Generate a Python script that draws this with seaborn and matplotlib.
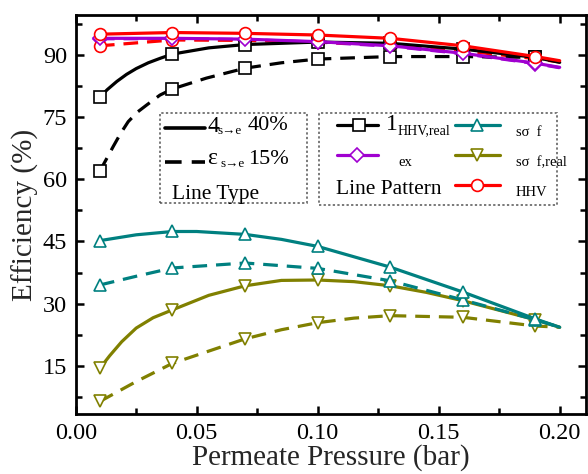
import numpy as np
import pandas as pd
import matplotlib
matplotlib.use("Agg")
import matplotlib.pyplot as plt
import seaborn as sns
from matplotlib.lines import Line2D
from matplotlib.patches import Rectangle

# ---------------- data ----------------
x_pts = [0.01, 0.04, 0.07, 0.10, 0.13, 0.16, 0.19]
x_end = 0.20

# solid lines (40 %)
hhv_40 = [95.0, 95.4, 95.2, 94.8, 94.0, 92.2, 89.6]
hhv_40_end = 88.6
ex_40 = [94.0, 94.0, 93.8, 93.2, 92.2, 90.4, 88.0]
ex_40_end = 87.0
hhv_real_40 = [79.8, 90.2, 92.5, 93.1, 92.8, 91.4, 89.4]
hhv_real_40_end = 88.2
hhv_real_40_xx = [0.013, 0.017, 0.021, 0.025, 0.030, 0.035, 0.055]
hhv_real_40_xy = [81.6, 83.6, 85.3, 86.7, 88.1, 89.2, 91.7]
sf_40 = [45.2, 47.4, 46.7, 43.8, 38.8, 32.8, 26.3]
sf_40_end = 24.3
sf_40_xx = [0.025, 0.05, 0.085]
sf_40_xy = [46.6, 47.4, 45.5]
sf_real_40 = [14.4, 28.5, 34.3, 35.7, 34.3, 30.7, 26.1]
sf_real_40_end = 24.3
sf_real_40_xx = [0.014, 0.019, 0.025, 0.032, 0.055, 0.085, 0.115, 0.145]
sf_real_40_xy = [17.4, 20.8, 24.1, 26.6, 32.0, 35.6, 35.3, 32.7]

# dashed lines (15 %)
hhv_15 = [92.2, 93.6, 93.5, 93.1, 92.5, 91.0, 89.1]
hhv_15_end = 88.3
ex_15 = [93.9, 93.9, 93.7, 93.1, 92.1, 90.3, 87.9]
ex_15_end = 86.9
hhv_real_15 = [62.0, 81.8, 86.8, 89.0, 89.6, 89.6, 89.4]
hhv_real_15_end = 88.4
hhv_real_15_xx = [0.013, 0.0155, 0.0185, 0.0217, 0.0255, 0.0293, 0.0348, 0.054, 0.085]
hhv_real_15_xy = [65.2, 67.9, 71.0, 73.9, 76.2, 77.9, 80.3, 84.4, 88.1]
sf_15 = [34.5, 38.6, 39.8, 38.5, 35.5, 30.9, 26.1]
sf_15_end = 24.3
sf_15_xx = [0.025]
sf_15_xy = [36.6]
sf_real_15 = [6.4, 15.6, 21.5, 25.4, 27.1, 26.7, 24.6]
sf_real_15_end = 24.3
sf_real_15_xx = [0.025, 0.085, 0.115]
sf_real_15_xy = [11.2, 23.7, 26.5]

x_ticks = [0.00, 0.05, 0.10, 0.15, 0.20]
x_ticklabels = ["0.00", "0.05", "0.10", "0.15", "0.20"]
y_ticks = [15, 30, 45, 60, 75, 90]
y_ticklabels = ["15", "30", "45", "60", "75", "90"]

C_BLACK = "#000000"
C_PURPLE = "#A000D0"
C_RED = "#FF0000"
C_TEAL = "#008080"
C_OLIVE = "#808000"

# ---------------- style ----------------
sns.set_theme(style="ticks")
plt.rcParams["font.family"] = ["Liberation Serif", "DejaVu Serif"]

W, H = 588, 474
fig = plt.figure(figsize=(W / 100, H / 100), dpi=100)
L, R, T, B = 75.7, 586.3, 14.7, 414.3
ax = fig.add_axes([L / W, 1 - B / H, (R - L) / W, (B - T) / H])

LW = 2.3
DASH = (4.6, 2.8)


def line_df(vals, end, xx=None, xy=None):
    xs = list(x_pts) + [x_end]
    ys = list(vals) + [end]
    if xx:
        xs += list(xx)
        ys += list(xy)
    return pd.DataFrame({"x": xs, "y": ys}).sort_values("x")


series = [
    # (vals, end, xx, xy, color, dashed, marker, ms, z)
    (sf_real_15, sf_real_15_end, sf_real_15_xx, sf_real_15_xy, C_OLIVE, True, "v", 8.5, 2),
    (sf_real_40, sf_real_40_end, sf_real_40_xx, sf_real_40_xy, C_OLIVE, False, "v", 8.5, 2),
    (sf_15, sf_15_end, sf_15_xx, sf_15_xy, C_TEAL, True, "^", 8.5, 3),
    (sf_40, sf_40_end, sf_40_xx, sf_40_xy, C_TEAL, False, "^", 8.5, 3),
    (ex_15, ex_15_end, None, None, C_PURPLE, True, "D", 7, 4),
    (hhv_real_15, hhv_real_15_end, hhv_real_15_xx, hhv_real_15_xy, C_BLACK, True, "s", 8, 5),
    (hhv_real_40, hhv_real_40_end, hhv_real_40_xx, hhv_real_40_xy, C_BLACK, False, "s", 8, 5),
    (ex_40, ex_40_end, None, None, C_PURPLE, False, "D", 7, 6),
    (hhv_15, hhv_15_end, None, None, C_RED, True, "o", 8.5, 4.5),
    (hhv_40, hhv_40_end, None, None, C_RED, False, "o", 8.5, 7),
]

for vals, end, xx, xy, col, dashed, mk, ms, z in series:
    df = line_df(vals, end, xx, xy)
    sns.lineplot(data=df, x="x", y="y", ax=ax, color=col, lw=LW,
                 estimator=None, sort=False, zorder=z)
    ln = ax.lines[-1]
    ln.set_solid_joinstyle("round")
    ln.set_dash_joinstyle("round")
    if dashed:
        ln.set_dashes(DASH)
    ax.plot(x_pts, vals, linestyle="none", marker=mk, ms=ms, mfc="white",
            mec=col, mew=1.2, zorder=z + 0.5)

ax.set_xlim(0, 0.211)
ax.set_ylim(3.3, 99.7)
ax.set_xticks(x_ticks)
ax.set_xticklabels(x_ticklabels)
ax.set_yticks(y_ticks)
ax.set_yticklabels(y_ticklabels)
ax.set_xticks(np.arange(0.025, 0.21, 0.05), minor=True)
ax.set_yticks([7.5, 22.5, 37.5, 52.5, 67.5, 82.5, 97.5], minor=True)
ax.tick_params(which="both", direction="in", top=True, right=True,
               width=1.8, labelsize=17.5, pad=6, colors="black")
ax.tick_params(which="major", length=6)
ax.tick_params(which="minor", length=4)
for s in ax.spines.values():
    s.set_linewidth(2.0)
    s.set_color("black")
ax.set_xlabel("Permeate Pressure (bar)", fontsize=21, labelpad=0)
ax.set_ylabel("Efficiency (%)", fontsize=21, labelpad=3)
ax.grid(False)


# ---------------- hand-made legends (figure pixel coords) ----------------
def fx(px):
    return px / W


def fy(py):
    return 1 - py / H


def ftext(px, py, s, size, **kw):
    fig.text(fx(px), fy(py), s, fontsize=size, va="center", ha="left",
             color="black", **kw)


def fline(x0, x1, y, col, dashed=False, mk=None, ms=8, mx=None, lw=LW):
    ln = Line2D([fx(x0), fx(x1)], [fy(y), fy(y)], transform=fig.transFigure,
                color=col, lw=lw)
    if dashed:
        ln.set_dashes(DASH)
    fig.add_artist(ln)
    if mk:
        m = Line2D([fx(mx)], [fy(y)], transform=fig.transFigure, marker=mk,
                   ms=ms, mfc="white", mec=col, mew=1.2, linestyle="none")
        fig.add_artist(m)


def fbox(x0, y0, x1, y1):
    r = Rectangle((fx(x0), fy(y1)), fx(x1) - fx(x0), fy(y0) - fy(y1),
                  transform=fig.transFigure, fill=False, ec="#555555",
                  lw=1.1, ls=(0, (1.5, 1.5)))
    fig.add_artist(r)


# Line Type box
fbox(160, 113.3, 306.7, 203.3)
fline(165, 205, 128, C_BLACK, lw=2.6)
ftext(207, 126, "4", 17)
ftext(218, 131, "s→e", 9.5)
ftext(248, 126, "40%", 16)
fline(165, 205, 161.5, C_BLACK, dashed=True, lw=2.6)
ftext(207, 159, "ε", 17)
ftext(220, 164, "s→e", 9.5)
ftext(248, 159, "15%", 16)
ftext(172, 194, "Line Type", 15.5)

# Line Pattern box
fbox(319, 113.3, 557, 205)
fline(336.7, 378.3, 125, C_BLACK, mk="s", ms=8, mx=359)
ftext(386, 124, "1", 17)
ftext(398, 131, "HHV,real", 10)
fline(455, 500, 125, C_TEAL, mk="^", ms=8.5, mx=477)
ftext(516, 133, "sσ  f", 10.5)
fline(336.7, 378.3, 155, C_PURPLE, mk="D", ms=7, mx=357)
ftext(398, 163, "ex", 10.5)
fline(455, 500, 155, C_OLIVE, mk="v", ms=8.5, mx=477)
ftext(516, 163, "sσ  f,real", 10.5)
ftext(336, 189, "Line Pattern", 15.5)
fline(455, 500, 185, C_RED, mk="o", ms=8.5, mx=477)
ftext(516, 193, "HHV", 10.5)

fig.savefig("out.png", dpi=100)
